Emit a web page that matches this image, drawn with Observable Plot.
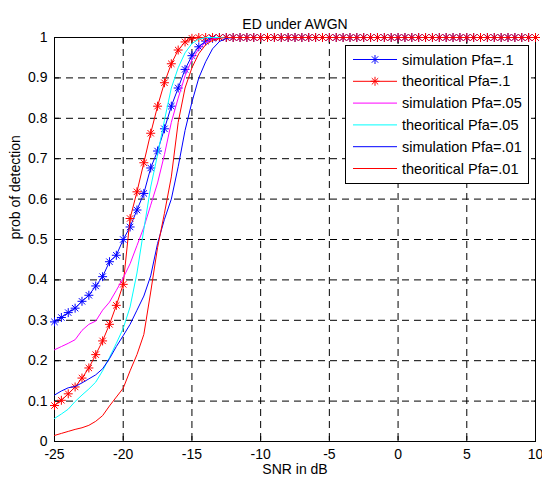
<!DOCTYPE html>
<html><head><meta charset="utf-8">
<script src="https://cdn.jsdelivr.net/npm/d3@7"></script>
<script src="https://cdn.jsdelivr.net/npm/@observablehq/plot@0.6"></script>
<style>
body{margin:0;background:#fff;}
#chart svg{display:block;}
</style></head><body><div id="chart"></div>
<script>
// SNR sample points (dB)
const snr = [
-25,-24.5,-24,-23.5,-23,-22.5,-22,-21.5,-21,-20.5,
-20,-19.5,-19,-18.5,-18,-17.5,-17,-16.5,-16,-15.5,
-15,-14.5,-14,-13.5,-13,-12.5,-12,-11.5,-11,-10.5,
-10,-9.5,-9,-8.5,-8,-7.5,-7,-6.5,-6,-5.5,
-5,-4.5,-4,-3.5,-3,-2.5,-2,-1.5,-1,-0.5,
0,0.5,1,1.5,2,2.5,3,3.5,4,4.5,
5,5.5,6,6.5,7,7.5,8,8.5,9,9.5,
10];

const simP1 = [
0.296,0.307,0.319,0.330,0.347,0.362,0.385,0.408,0.445,0.461,
0.500,0.531,0.573,0.614,0.677,0.719,0.774,0.830,0.875,0.921,
0.955,0.977,0.991,0.998,1,1,1,1,1,1,
1,1,1,1,1,1,1,1,1,1,
1,1,1,1,1,1,1,1,1,1,
1,1,1,1,1,1,1,1,1,1,
1,1,1,1,1,1,1,1,1,1,
1];

const thP1 = [
0.089,0.102,0.118,0.135,0.157,0.182,0.215,0.249,0.290,0.337,
0.389,0.552,0.618,0.690,0.763,0.830,0.888,0.935,0.969,0.989,
0.998,1,1,1,1,1,1,1,1,1,
1,1,1,1,1,1,1,1,1,1,
1,1,1,1,1,1,1,1,1,1,
1,1,1,1,1,1,1,1,1,1,
1,1,1,1,1,1,1,1,1,1,
1];

const simP05 = [
0.227,0.235,0.243,0.252,0.275,0.290,0.298,0.325,0.345,0.374,
0.405,0.440,0.485,0.530,0.585,0.640,0.710,0.790,0.850,0.905,
0.945,0.972,0.988,0.996,1,1,1,1,1,1,
1,1,1,1,1,1,1,1,1,1,
1,1,1,1,1,1,1,1,1,1,
1,1,1,1,1,1,1,1,1,1,
1,1,1,1,1,1,1,1,1,1,
1];

const thP05 = [
0.057,0.068,0.080,0.099,0.115,0.130,0.147,0.175,0.208,0.243,
0.280,0.333,0.417,0.525,0.630,0.710,0.795,0.875,0.925,0.962,
0.985,0.996,1,1,1,1,1,1,1,1,
1,1,1,1,1,1,1,1,1,1,
1,1,1,1,1,1,1,1,1,1,
1,1,1,1,1,1,1,1,1,1,
1,1,1,1,1,1,1,1,1,1,
1];

const simP01 = [
0.115,0.125,0.133,0.136,0.145,0.155,0.165,0.180,0.205,0.235,
0.262,0.290,0.325,0.360,0.410,0.490,0.550,0.600,0.680,0.770,
0.840,0.900,0.940,0.972,0.990,0.998,1,1,1,1,
1,1,1,1,1,1,1,1,1,1,
1,1,1,1,1,1,1,1,1,1,
1,1,1,1,1,1,1,1,1,1,
1,1,1,1,1,1,1,1,1,1,
1];

const thP01 = [
0.015,0.020,0.025,0.030,0.034,0.040,0.050,0.064,0.088,0.110,
0.132,0.175,0.215,0.265,0.370,0.480,0.565,0.655,0.790,0.875,
0.925,0.960,0.982,0.993,0.998,1,1,1,1,1,
1,1,1,1,1,1,1,1,1,1,
1,1,1,1,1,1,1,1,1,1,
1,1,1,1,1,1,1,1,1,1,
1,1,1,1,1,1,1,1,1,1,
1];

const seriesNames = ["simulation Pfa=.1","theoritical Pfa=.1","simulation Pfa=.05","theoritical Pfa=.05","simulation Pfa=.01","theoritical Pfa=.01"];
const seriesColors = ["#0000ff","#ff0000","#ff00ff","#00ffff","#0000ff","#ff0000"];
const seriesStar = [true,true,false,false,false,false];
const seriesValues = [simP1, thP1, simP05, thP05, simP01, thP01];

const xTicks = [-25,-20,-15,-10,-5,0,5,10];
const yTicks = [0,0.1,0.2,0.3,0.4,0.5,0.6,0.7,0.8,0.9,1];
const titleText = "ED under AWGN";
const xLabel = "SNR in dB";
const yLabel = "prob of detection";

seriesValues.forEach((v,k)=>{ if (v.length !== snr.length) throw new Error("length mismatch in series " + k + ": " + v.length); });

const FONT = "'Liberation Sans', Arial, Helvetica, sans-serif";
const yFmt = d => (d === 0 ? "0" : d === 1 ? "1" : d.toFixed(1));

const marks = [
  Plot.gridX(xTicks, {stroke:"#000", strokeOpacity:1, strokeWidth:1, strokeDasharray:"7,5"}),
  Plot.gridY(yTicks, {stroke:"#000", strokeOpacity:1, strokeWidth:1, strokeDasharray:"7,5"}),
  Plot.frame({stroke:"#000", strokeWidth:1}),
  Plot.axisX(xTicks, {anchor:"bottom", tickSize:-5, tickPadding:13, tickFormat:d=>String(d), label:null, fontSize:14}),
  Plot.axisX(xTicks, {anchor:"top", tickSize:-5, tickFormat:()=>"", label:null}),
  Plot.axisY(yTicks, {anchor:"left", tickSize:-5, tickPadding:12, tickFormat:yFmt, label:null, fontSize:14}),
  Plot.axisY(yTicks, {anchor:"right", tickSize:-5, tickFormat:()=>"", label:null})
];

seriesValues.forEach((vals,k)=>{
  const data = snr.map((x,i)=>({x, y: vals[i]}));
  marks.push(Plot.line(data, {x:"x", y:"y", stroke:seriesColors[k], strokeWidth:1}));
  if (seriesStar[k]) {
    marks.push(Plot.dot(data, {x:"x", y:"y", symbol:"plus", r:3, stroke:seriesColors[k], fill:"none", strokeWidth:1}));
    marks.push(Plot.dot(data, {x:"x", y:"y", symbol:"times", r:3, stroke:seriesColors[k], fill:"none", strokeWidth:1}));
  }
});

marks.push(
  Plot.text([titleText], {text:d=>d, frameAnchor:"top", dy:-18, fontSize:14, fill:"#000"}),
  Plot.text([xLabel], {text:d=>d, frameAnchor:"bottom", dy:32, fontSize:14, fill:"#000"}),
  Plot.text([yLabel], {text:d=>d, frameAnchor:"left", dx:-39, rotate:-90, fontSize:14, fill:"#000"})
);

const chart = Plot.plot({
  width: 542, height: 481,
  marginLeft: 54, marginRight: 7, marginTop: 37, marginBottom: 40,
  style: {fontFamily: FONT, fontSize: "14px", color: "#000", background: "#fff", overflow: "visible"},
  x: {domain: [-25, 10], label: null},
  y: {domain: [0, 1], label: null},
  marks
});
document.getElementById("chart").appendChild(chart);

// Legend box (inside the axes, top-right)
const svg = d3.select(chart);
const lg = svg.append("g").attr("font-family", FONT).attr("font-size", 14.5).attr("text-anchor", "start");
const box = {x: 345.5, y: 45.5, w: 183, h: 138};
lg.append("rect").attr("x", box.x).attr("y", box.y).attr("width", box.w).attr("height", box.h)
  .attr("fill", "#fff").attr("stroke", "#000").attr("stroke-width", 1);
const symPlus = d3.symbol(d3.symbolPlus, Math.PI * 9)();
const symTimes = d3.symbol(d3.symbolTimes, Math.PI * 9)();
seriesNames.forEach((name,k)=>{
  const cy = 59.5 + k * 21.8;
  const g = lg.append("g");
  g.append("line").attr("x1", 353).attr("x2", 397).attr("y1", cy).attr("y2", cy)
    .attr("stroke", seriesColors[k]).attr("stroke-width", 1);
  if (seriesStar[k]) {
    g.append("path").attr("d", symPlus).attr("transform", `translate(375,${cy})`).attr("stroke", seriesColors[k]).attr("fill", "none");
    g.append("path").attr("d", symTimes).attr("transform", `translate(375,${cy})`).attr("stroke", seriesColors[k]).attr("fill", "none");
  }
  g.append("text").attr("x", 402).attr("y", cy).attr("dy", "0.35em").attr("text-anchor", "start").attr("fill", "#000").text(name);
});
</script>
</body></html>
